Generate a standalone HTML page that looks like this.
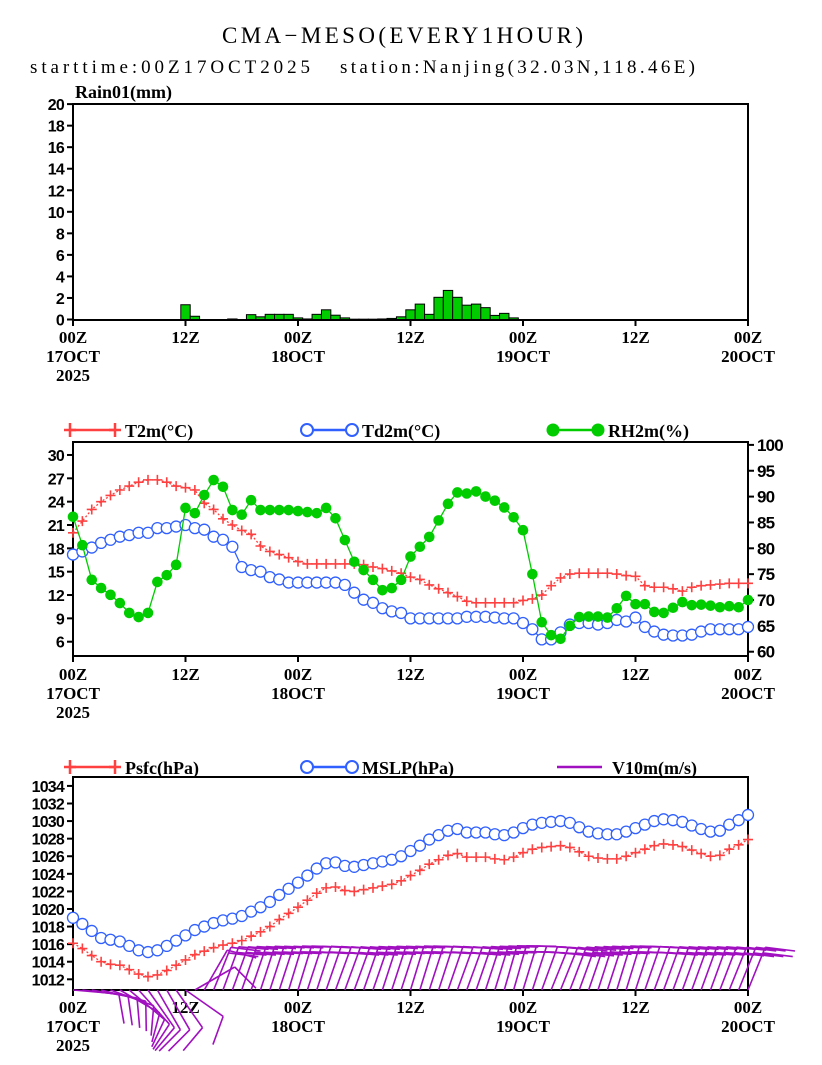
<!DOCTYPE html>
<html><head><meta charset="utf-8"><style>
html,body{margin:0;padding:0;background:#fff;}
svg{display:block;}
</style></head><body>
<svg id="chart" width="822" height="1065" viewBox="0 0 822 1065" xmlns="http://www.w3.org/2000/svg">
<text x="222" y="43" textLength="361" lengthAdjust="spacing" font-family="Liberation Serif, serif" font-size="23">CMA−MESO(EVERY1HOUR)</text>
<text x="30" y="73" textLength="280" lengthAdjust="spacing" font-family="Liberation Serif, serif" font-size="19">starttime:00Z17OCT2025</text>
<text x="340" y="73" textLength="355" lengthAdjust="spacing" font-family="Liberation Serif, serif" font-size="19">station:Nanjing(32.03N,118.46E)</text>
<g id="g"></g>
</svg>
<script>
const hours = Array.from({length:73},(_, i)=>i);
const xTickLabels = [["00Z","17OCT","2025"],["12Z"],["00Z","18OCT"],["12Z"],["00Z","19OCT"],["12Z"],["00Z","20OCT"]];
const rain = [0,0,0,0,0,0,0,0,0,0,0,0,1.37,0.3,0,0,0,0.05,0,0.45,0.25,0.48,0.48,0.48,0.15,0.05,0.48,0.9,0.4,0.15,0.03,0.03,0.03,0.05,0.1,0.25,0.9,1.43,0.48,2.06,2.7,2.06,1.33,1.43,1.1,0.38,0.57,0.15,0,0,0,0,0,0,0,0,0,0,0,0,0,0,0,0,0,0,0,0,0,0,0,0,0];
const t2m = [20,21.5,23,24,24.8,25.5,26,26.5,26.8,26.8,26.5,26,25.8,25.5,23.8,23,21.8,21,20.3,19.8,18.3,17.6,17.2,16.8,16.3,16,16,16,16,16,16,15.9,15.6,15.4,15.1,14.8,14.3,14,13.3,12.8,12.3,11.8,11.2,11,11,11,11,11,11.3,11.5,12,13.2,14.2,14.7,14.8,14.8,14.8,14.8,14.7,14.5,14.4,13.2,13,13,12.8,12.5,13,13.2,13.3,13.4,13.5,13.5,13.5];
const td2m = [17.2,17.6,18.1,18.7,19.1,19.5,19.7,20,20,20.6,20.6,20.8,21,20.6,20.4,19.5,19.1,18.2,15.6,15.2,15,14.3,14,13.6,13.6,13.6,13.6,13.6,13.6,13.3,12.3,11.4,11,10.3,9.9,9.7,9,9,9,9,9,9,9.2,9.2,9.2,9.1,9,9,8.4,7.6,6.3,6.3,7.2,8.2,8.4,8.4,8.2,8.4,8.8,8.6,9.1,7.9,7.3,6.9,6.8,6.8,6.9,7.3,7.6,7.6,7.6,7.6,7.9];
const rh2m = [86.1,80.6,73.9,72.3,71,69.4,67.5,66.7,67.5,73.5,74.8,76.8,87.8,86.8,90.3,93.2,91.9,87.4,86.5,89.3,87.4,87.4,87.4,87.4,87.2,87,86.8,87.8,85.8,81.6,77.4,75.8,73.9,71.9,72.3,73.9,78.4,80.3,82.2,85.4,88.6,90.8,90.6,91,90,89.2,87.9,86,83.5,75,65.7,63.2,62.5,65,66.7,66.8,66.8,66.6,68.4,70.8,69.2,69.2,67.7,67.5,68.5,69.6,69,69.1,68.9,68.6,68.8,68.6,70];
const mslp = [1019,1018.3,1017.5,1016.7,1016.5,1016.3,1015.8,1015.3,1015.1,1015.3,1015.8,1016.4,1017,1017.6,1018,1018.4,1018.7,1018.9,1019.2,1019.7,1020.2,1020.8,1021.6,1022.3,1023,1023.8,1024.6,1025.2,1025.3,1024.9,1024.8,1025,1025.2,1025.4,1025.6,1026,1026.6,1027.2,1027.9,1028.4,1028.9,1029.1,1028.7,1028.7,1028.7,1028.5,1028.4,1028.7,1029.2,1029.6,1029.8,1029.9,1030,1029.8,1029.3,1028.8,1028.6,1028.5,1028.5,1028.8,1029.2,1029.6,1030,1030.2,1030.1,1029.9,1029.5,1029.1,1028.8,1028.9,1029.6,1030.1,1030.7];
const psfc = [1016.1,1015.5,1014.7,1014,1013.7,1013.6,1013.1,1012.6,1012.3,1012.5,1013,1013.6,1014.2,1014.8,1015.2,1015.6,1015.9,1016.1,1016.4,1016.9,1017.4,1018,1018.8,1019.5,1020.2,1021,1021.8,1022.4,1022.5,1022.1,1022,1022.2,1022.4,1022.6,1022.8,1023.2,1023.8,1024.4,1025.1,1025.6,1026.1,1026.3,1025.9,1025.9,1025.9,1025.7,1025.6,1025.9,1026.4,1026.8,1027,1027.1,1027.2,1027,1026.5,1026,1025.8,1025.7,1025.7,1026,1026.4,1026.8,1027.2,1027.4,1027.3,1027.1,1026.7,1026.3,1026,1026.1,1026.8,1027.3,1027.9];
const windDir = [95,97,100,104,110,120,130,138,145,150,150,145,125,60,30,22,20,20,19,19,18,18,18,17,17,18,18,19,20,20,20,19,19,18,18,18,17,17,18,18,19,20,20,19,18,17,16,16,17,18,20,22,22,21,20,19,18,18,17,17,18,19,20,20,20,20,20,20,20,21,22,22,22];
const windSpd = [5,5,5,5,5,5,5,5,5,5,5,5,5,6,7,8,8,8,8,8,8,8,8,8,8,8,8,8,8,8,8,8,8,8,8,8,8,8,8,8,8,8,8,8,8,8,8,8,8,8,8,8,8,8,8,8,8,8,8,8,8,8,8,8,8,8,8,8,8,8,8,8,8];
const rainTicks = [0,2,4,6,8,10,12,14,16,18,20];
const tTicks = [6,9,12,15,18,21,24,27,30];
const rhTicks = [60,65,70,75,80,85,90,95,100];
const pTicks = [1012,1014,1016,1018,1020,1022,1024,1026,1028,1030,1032,1034];

const NS="http://www.w3.org/2000/svg";
const G=document.getElementById('g');
function mk(tag,attrs,parent){const e=document.createElementNS(NS,tag);for(const k in attrs)e.setAttribute(k,attrs[k]);(parent||G).appendChild(e);return e;}
const X0=73,X1=748;
const xS=h=>X0+(X1-X0)*h/72;
const yRain=v=>319.5-v*10.77;
const yT=v=>641.7-(v-6)*7.78;
const yRH=v=>651.7-(v-60)*5.17;
const yP=v=>979.3-(v-1012)*8.79;
const SANS="Liberation Sans, sans-serif", SERIF="Liberation Serif, serif";

function frame(name,top,bot){
  const r=mk('rect',{x:X0,y:top,width:X1-X0,height:bot-top,fill:'none',stroke:'#000','stroke-width':2});
  
  
}
function xAxis(name,bot,yl){
  const g=mk('g',{});
  
  
  xTickLabels.forEach((lab,i)=>{
    const x=xS(i*12);
    mk('line',{x1:x,y1:bot,x2:x,y2:bot+6,stroke:'#000','stroke-width':2},g);
    lab.forEach((s,j)=>{
      const t=mk('text',{x:x,y:yl+j*19,'text-anchor':'middle','font-family':SERIF,'font-weight':'bold','font-size':17},g);
      
      
      t.textContent=s;
    });
  });
}
function yAxis(name,ticks,fn,side,fs){
  const g=mk('g',{});
  
  
  ticks.forEach(v=>{
    const y=fn(v);
    const xa=side==='l'?X0:X1;
    const d=side==='l'?-6:6;
    mk('line',{x1:xa,y1:y,x2:xa+d,y2:y,stroke:'#000','stroke-width':2},g);
    const t=mk('text',{x:side==='l'?X0-9:X1+9,y:y+6,'text-anchor':side==='l'?'end':'start','font-family':SANS,'font-weight':'bold','font-size':fs,'letter-spacing':-0.8},g);
    
    
    t.textContent=v;
  });
}
function cross(g,x,y,c){mk('path',{d:`M${x-5},${y}H${x+5}M${x},${y-5}V${y+5}`,stroke:c,'stroke-width':1.6,fill:'none'},g);}

frame('rain-panel',104,320);
yAxis('rain-y-axis',rainTicks,yRain,'l',16);
xAxis('rain',320,343);
{const t=mk('text',{x:75,y:98,'font-family':SERIF,'font-weight':'bold','font-size':18});
t.textContent='Rain01(mm)';}
const bw=(X1-X0)/72;
rain.forEach((v,i)=>{ if(v<=0) return;
  const b=mk('rect',{x:xS(hours[i])-bw/2,y:yRain(v),width:bw,height:yRain(0)-yRain(v),fill:'#00cc00',stroke:'#000','stroke-width':1});
  
  
});

frame('temp-panel',442,656);
yAxis('temp-y-axis',tTicks,yT,'l',16);
yAxis('rh-y-axis',rhTicks,yRH,'r',17);
xAxis('temp',656,680);
function series(name,arr,fn,col,mark){
  const g=mk('g',{});
  
  
  mk('polyline',{points:arr.map((v,i)=>xS(hours[i])+','+fn(v)).join(' '),fill:'none',stroke:col,'stroke-width':1.3,'stroke-dasharray':mark==='x'?'2,2':'none'},g);
  arr.forEach((v,i)=>{const x=xS(hours[i]),y=fn(v);
    if(mark==='x') cross(g,x,y,col);
    else if(mark==='o') mk('circle',{cx:x,cy:y,r:5.5,fill:'#fff',stroke:col,'stroke-width':1.3},g);
    else mk('circle',{cx:x,cy:y,r:5.3,fill:col},g);
  });
}
series('t2m-series',t2m,yT,'#ff4040','x');
series('td2m-series',td2m,yT,'#3060ff','o');
series('rh2m-series',rh2m,yRH,'#00cc00','d');
function legend(x,y,col,mark,label,name){
  const g=mk('g',{});
  
  
  mk('line',{x1:x,y1:y,x2:x+45,y2:y,stroke:col,'stroke-width':2.5},g);
  [x,x+45].forEach(px=>{
    if(mark==='x') mk('path',{d:`M${px-6},${y}H${px+6}M${px},${y-7}V${y+7}`,stroke:col,'stroke-width':2.5},g);
    else if(mark==='o') mk('circle',{cx:px,cy:y,r:6,fill:'#fff',stroke:col,'stroke-width':2},g);
    else if(mark==='d') mk('circle',{cx:px,cy:y,r:6.5,fill:col},g);
  });
  const t=mk('text',{x:x+55,y:y+7,'font-family':SERIF,'font-weight':'bold','font-size':18},g);
  t.textContent=label;
}
legend(70,430,'#ff4040','x','T2m(°C)','legend-t2m');
legend(307,430,'#3060ff','o','Td2m(°C)','legend-td2m');
legend(553,430,'#00cc00','d','RH2m(%)','legend-rh2m');

frame('pressure-panel',777,990);
yAxis('pressure-y-axis',pTicks,yP,'l',16);
xAxis('pressure',990,1013);
series('psfc-series',psfc,yP,'#ff4040','x');
series('mslp-series',mslp,yP,'#3060ff','o');
legend(70,767,'#ff4040','x','Psfc(hPa)','legend-psfc');
legend(307,767,'#3060ff','o','MSLP(hPa)','legend-mslp');
legend(557,767,'#a010c0','n','V10m(m/s)','legend-v10m');
{const g=mk('g',{});


windDir.forEach((d,i)=>{
  const x=xS(hours[i]),y=990,L=46,r=d*Math.PI/180;
  const tx=x+L*Math.sin(r),ty=y-L*Math.cos(r);
  let p=`M${x},${y}L${tx},${ty}`;
  const nb=Math.floor(windSpd[i]/4);
  const br=r+75*Math.PI/180;
  for(let k=0;k<nb;k++){
    const bx=tx-(k*6)*Math.sin(r),by=ty+(k*6)*Math.cos(r);
    p+=`M${bx},${by}L${bx+30*Math.sin(br)},${by-30*Math.cos(br)}`;
  }
  mk('path',{d:p,stroke:'#a010c0','stroke-width':1.6,fill:'none'},g);
});}
</script>
</body></html>
